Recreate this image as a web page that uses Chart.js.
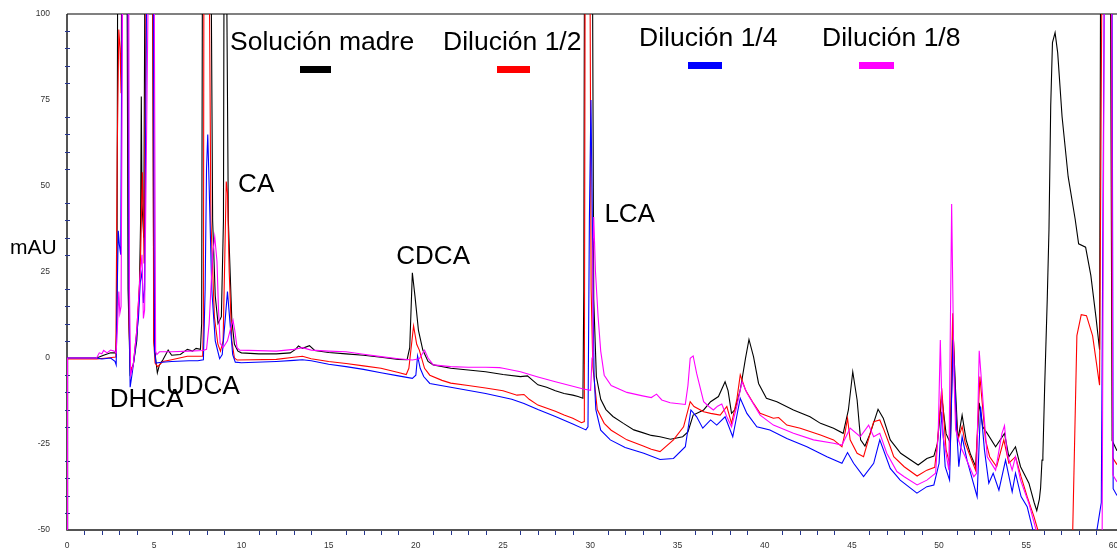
<!DOCTYPE html>
<html>
<head>
<meta charset="utf-8">
<script src="https://cdn.jsdelivr.net/npm/chart.js@4.4.1/dist/chart.umd.min.js"></script>
<style>
  html, body { margin: 0; padding: 0; background: #fff; overflow: hidden; }
  #wrap { width: 1117px; height: 554px; position: relative; }
</style>
</head>
<body>
<div id="wrap"><canvas id="chart" width="1117" height="554"></canvas></div>
<script>
// Chromatogram traces: [retention time (min), absorbance (mAU)]
const seriesNames = ['Solución madre', 'Dilución 1/2', 'Dilución 1/4', 'Dilución 1/8'];

const madreTrace = [
  [0,-60],[0.03,0],[1.7,0],[2.1,0.8],[2.5,1.5],[2.8,1.5],[2.86,10],[2.92,150],[3.42,150],[3.5,20],
  [3.62,-4.5],[3.8,-2],[4.0,5],[4.15,20],[4.22,40],[4.26,76],[4.3,45],[4.4,35],[4.5,150],[4.88,150],
  [4.98,5],[5.1,-1],[5.18,-4.3],[5.3,-2],[5.5,-0.5],[5.8,2.3],[6.0,0.8],[6.5,1.0],[6.9,2.5],[7.2,2.0],
  [7.4,2.8],[7.65,2.5],[7.72,10],[7.78,150],[8.22,150],[8.35,40],[8.5,18],[8.66,10],[8.85,12],[8.97,40],
  [9.02,150],[9.1,150],[9.25,40],[9.45,11],[9.6,4],[9.8,2],[10,1.5],[11,1.2],[12,1.2],[12.8,1.5],
  [13.1,2.5],[13.27,3.5],[13.5,2.8],[13.9,3.6],[14.2,2.2],[15,1.6],[16,1.2],[17,0.8],[18,0.2],[19,-0.4],
  [19.5,-0.5],[19.65,3],[19.8,24.8],[19.95,18],[20.15,8],[20.4,2.3],[20.7,-1],[21,-2],[22,-3],[23,-3.5],
  [24,-4],[25,-4.8],[26,-5.4],[26.4,-5.2],[26.7,-6.5],[27,-7.8],[27.5,-8.5],[28,-9.5],[28.5,-10.3],[29,-10.8],
  [29.3,-11.2],[29.58,-11.7],[29.63,20],[29.68,150],[30.1,150],[30.2,17],[30.35,-5.4],[30.6,-12],[30.9,-15],[31.3,-17],
  [31.9,-19],[32.5,-20.9],[33,-21.7],[33.5,-22.5],[34,-22.9],[34.6,-23.6],[35.3,-22.9],[35.6,-21.5],[35.9,-16.6],[36.5,-15.1],
  [36.9,-12.7],[37.35,-11.2],[37.73,-6.9],[37.9,-9.5],[38.1,-16.1],[38.3,-15],[38.6,-9.3],[38.9,-0.1],[39.1,5.4],[39.36,0.4],
  [39.65,-7.4],[40.1,-11.7],[40.7,-12.7],[41.65,-15.1],[42.6,-17.1],[43.2,-19],[43.95,-20.4],[44.5,-21.9],[44.8,-15.1],[45.05,-4],
  [45.3,-12.2],[45.5,-23.8],[45.75,-25.6],[46.05,-21.9],[46.5,-14.9],[46.8,-17.5],[47.2,-23.8],[47.8,-27.7],[48.8,-31.1],[49.3,-29.2],
  [49.7,-28.5],[49.9,-25],[50.15,-11.2],[50.4,-22],[50.65,-24.8],[50.8,8],[50.95,-10],[51.08,-23.8],[51.32,-16.6],[51.55,-23.8],
  [51.8,-28],[52.1,-31.6],[52.3,-13],[52.5,-20],[52.76,-21.9],[53.24,-25.8],[53.75,-21.9],[54,-28.7],[54.38,-25.8],[54.67,-31.6],
  [55.15,-36.4],[55.45,-42],[55.6,-44.4],[55.75,-41],[55.82,-37.7],[55.9,-29.7],[55.95,-28.5],[56.05,-8.9],[56.2,16.9],[56.3,37.3],
  [56.4,73.3],[56.5,91.7],[56.65,94.6],[56.8,88.7],[57.05,70.2],[57.4,52.7],[57.8,40.4],[58.0,33.2],[58.4,32.2],[58.7,24],
  [59.0,11.6],[59.2,2.4],[59.28,150],[59.8,150],[59.92,-24],[60.2,-27]
];

const mitadTrace = [
  [0,-60],[0.03,-0.3],[1.7,-0.3],[2.3,0],[2.8,0.3],[2.88,60],[2.97,95.5],[3.04,90],[3.1,77],[3.17,150],
  [3.45,150],[3.55,10],[3.64,-3.5],[3.8,-2],[4.0,8],[4.2,25],[4.32,54],[4.38,40],[4.42,27.5],[4.5,80],
  [4.56,150],[4.9,150],[4.97,5],[5.05,-1.5],[5.2,-2.5],[5.5,-1],[6,-0.5],[6.9,0.5],[7.5,0.5],[7.78,0.5],
  [7.82,10],[7.86,150],[8.11,150],[8.25,40],[8.45,12],[8.65,4],[8.8,2],[8.95,5],[9.05,30],[9.13,51.3],
  [9.2,48],[9.3,25],[9.45,5],[9.6,0],[9.75,-0.6],[12,-0.4],[13,0.2],[13.5,0.5],[14,-0.2],[15,-1],
  [16,-1.6],[17,-2.3],[18,-3],[19,-4.2],[19.45,-4.8],[19.6,-3],[19.87,9.3],[20.05,4],[20.2,2.3],[20.5,-3],
  [20.8,-5],[21.5,-6.5],[22,-7.3],[23,-8],[24,-8.7],[25,-9.5],[25.8,-10.8],[26.2,-10.6],[26.5,-12],[27,-13.7],
  [28,-15.5],[28.5,-16.6],[29,-17.5],[29.5,-18.8],[29.66,-18.5],[29.72,150],[29.96,150],[30.05,20],[30.15,-2.5],[30.4,-15],
  [30.8,-19],[31.2,-21],[32.1,-23.8],[33,-25.5],[33.5,-26.5],[34,-27.2],[34.77,-23.8],[35.35,-20],[35.73,-12.7],[35.95,-14.1],
  [36.5,-15.6],[36.9,-16.1],[37.45,-16.6],[37.83,-14.1],[38.1,-19],[38.4,-12.2],[38.6,-4.9],[38.9,-9.3],[39.36,-13.2],[39.74,-16.1],
  [40.5,-17.5],[40.8,-17.3],[41.27,-19.5],[42.04,-20.4],[43.2,-22.4],[43.95,-23.8],[44.43,-25.8],[44.6,-21.9],[44.75,-17.5],[44.9,-23.8],
  [45.3,-27.7],[45.67,-28.7],[46.05,-21.9],[46.25,-18.5],[46.6,-18],[46.8,-20.4],[47.2,-25.8],[47.4,-28.7],[48,-31.6],[48.74,-34.3],
  [49.3,-32.6],[49.75,-31.8],[49.9,-24.8],[50.15,-8.8],[50.4,-26.7],[50.6,-30.6],[50.78,13],[50.95,-15],[51.08,-23.8],[51.32,-19.9],
  [51.5,-24.8],[52.09,-32.6],[52.34,-5.4],[52.66,-23.8],[52.9,-28.7],[53.3,-31.6],[53.71,-23.8],[54,-30.6],[54.38,-28.7],[54.7,-34.5],
  [55.05,-40.3],[55.44,-46.1],[55.72,-51],[55.9,-60],[57.62,-60],[57.9,6.5],[58.15,12.6],[58.45,12.3],[58.8,6.5],[59.2,-7.9],
  [59.38,150],[59.85,150],[59.95,-29],[60.2,-31]
];

const cuartoTrace = [
  [0,-60],[0.03,0],[1.7,0],[2.0,-0.3],[2.5,0],[2.75,-1],[2.82,-2],[2.88,20],[2.94,37],[3.0,33],
  [3.08,30],[3.2,150],[3.46,150],[3.55,20],[3.62,-8.5],[3.75,-4],[3.9,2],[4.1,12],[4.2,22],[4.3,25],
  [4.38,16],[4.45,20],[4.62,150],[4.93,150],[5.02,2],[5.1,-1.5],[5.3,-1.3],[6,-1],[7,-0.8],[7.5,-0.8],
  [7.82,-0.5],[7.92,20],[8.0,55],[8.07,65],[8.15,50],[8.3,20],[8.5,5],[8.75,-0.2],[8.9,1],[9.05,10],
  [9.2,19.3],[9.35,10],[9.5,1],[9.65,-1.2],[10,-1.4],[12,-1],[13,-0.7],[13.5,-0.5],[14,-0.8],[15,-1.8],
  [16,-2.5],[17,-3.3],[18,-4.3],[19,-5.2],[19.8,-5.9],[20,-5],[20.1,0.6],[20.25,-3],[20.45,-5.4],[20.8,-7.4],
  [22,-8.5],[24,-10.3],[25.5,-12],[26.2,-13.2],[27,-15],[28,-17],[29,-19.2],[29.75,-20.9],[29.87,-20],[29.95,40],
  [30.04,75],[30.12,40],[30.16,16.9],[30.22,-5],[30.32,-15],[30.6,-21],[31.15,-23.8],[32,-26],[33.07,-27.7],[34,-29.5],
  [34.77,-29.2],[35.45,-25.8],[35.77,-15.1],[36.1,-17.1],[36.45,-20.4],[36.9,-18],[37.25,-19.5],[37.73,-17.1],[38.17,-22.9],[38.6,-11.7],
  [38.98,-16.1],[39.55,-20],[40.3,-20.9],[41.27,-23.4],[42.42,-25.8],[43.57,-28.7],[44.43,-30.6],[44.75,-27.5],[45.1,-30.6],[45.67,-34.5],
  [46.25,-30.6],[46.6,-23.8],[47.2,-32.1],[47.77,-35.5],[48.73,-39.3],[49.3,-37.4],[49.7,-36.9],[50,-30.6],[50.15,-15.6],[50.35,-31.6],
  [50.6,-35.5],[50.8,5.2],[51,-20],[51.13,-31.6],[51.32,-22.9],[51.6,-29.7],[52.18,-40.3],[52.38,-14.1],[52.6,-26.7],[52.85,-36.4],
  [53.1,-33.5],[53.43,-38.4],[53.81,-29.7],[54.19,-38.9],[54.38,-33.5],[54.7,-40.3],[55.05,-43.2],[55.4,-50.5],[55.6,-60],[58.95,-60],
  [59.05,-50],[59.3,-42],[59.52,150],[59.9,150],[59.98,-38],[60.2,-40]
];

const octavoTrace = [
  [0,-60],[0.03,0],[1.7,0],[1.85,1.5],[2.0,1.2],[2.1,2.2],[2.3,1.5],[2.5,2.3],[2.7,2],[2.82,1.5],
  [2.9,10],[2.97,19.3],[3.03,13],[3.1,15],[3.23,150],[3.52,150],[3.58,20],[3.65,-5],[3.8,-2],[4.0,8],
  [4.2,25],[4.3,30],[4.38,11.5],[4.45,14],[4.75,150],[4.97,150],[5.08,2],[5.15,1],[5.3,1.8],[6,1.8],
  [7,2],[7.8,2.2],[8.0,2.5],[8.15,10],[8.35,30],[8.47,35.3],[8.6,28],[8.68,15],[8.78,4.3],[8.95,3],
  [9.2,5],[9.4,9],[9.52,11],[9.62,8],[9.75,3],[9.9,2.3],[12,2],[13,2.5],[13.5,3],[14,2.3],
  [15,2],[16,1.8],[17,1.1],[18,0.4],[19,-0.2],[19.8,-0.6],[20.2,-0.2],[20.5,2.3],[20.7,0],[21,-2],
  [22,-2.5],[23,-2.7],[24,-2.7],[24.8,-2.8],[25,-3],[26,-4],[27,-5.5],[28,-6.9],[29,-8.2],[29.6,-9],
  [30.02,-9.4],[30.1,0],[30.15,30],[30.2,41],[30.3,25],[30.45,12],[30.6,2],[30.8,-5],[31.2,-8],[32.1,-10],
  [33,-11],[33.5,-11.5],[33.8,-10.5],[34.1,-12.2],[34.58,-13],[35.45,-13.5],[35.6,-8],[35.73,-0.1],[35.9,0.6],[36.1,-4.5],
  [36.5,-12.7],[36.8,-14.1],[37.06,-15.1],[37.3,-14],[37.54,-13.4],[37.83,-17.1],[38.1,-20],[38.4,-14.1],[38.7,-6.9],[39,-10.3],
  [39.74,-16.6],[40.5,-19.5],[41.65,-21.9],[42.8,-23.8],[43.95,-24.8],[44.43,-25.3],[44.9,-20.4],[45.48,-22.9],[45.96,-19.5],[46.25,-22.9],
  [46.6,-21.9],[47,-27.7],[47.58,-33],[48,-34.5],[48.74,-36.9],[49.3,-35.5],[49.8,-33.5],[49.95,-21.9],[50.07,5.2],[50.2,-21.9],
  [50.56,-32.6],[50.72,44.8],[50.85,-5],[50.95,-20.9],[51.23,-25.8],[51.5,-28.7],[51.99,-34.5],[52.15,-33.5],[52.3,2.1],[52.57,-16.1],
  [52.76,-28.7],[53.24,-32.6],[53.6,-22],[53.75,-19.7],[53.9,-27.7],[54.19,-32.6],[54.38,-28.7],[54.67,-35.5],[55.15,-42.3],[55.59,-50.5],
  [55.8,-60],[59.3,-60],[59.35,-50],[59.5,150],[59.88,150],[59.96,-34],[60.2,-36]
];

const traces = [madreTrace, mitadTrace, cuartoTrace, octavoTrace];
const traceColors = ['#000000', '#ff0000', '#0000ff', '#ff00ff'];

// Axis ticks
const xTickLabels = [0, 5, 10, 15, 20, 25, 30, 35, 40, 45, 50, 55, 60];
const yTickLabels = [100, 75, 50, 25, 0, -25, -50];
const axisTitle = 'mAU';

// Peak names
const peakNames = ['DHCA', 'UDCA', 'CA', 'CDCA', 'LCA'];

// ---- layout ----
const peakLabelAt = {            // left/baseline anchor in (min, mAU)
  DHCA: [2.45, -14.3],
  UDCA: [5.68, -10.4],
  CA:   [9.81, 48.3],
  CDCA: [18.88, 27.3],
  LCA:  [30.81, 39.5]
};
const legendSlots = [            // text left/baseline, swatch box (px)
  { tx: 230, ty: 50, sx: 300, sy: 66, sw: 31, sh: 7 },
  { tx: 443, ty: 50, sx: 497, sy: 66, sw: 33, sh: 7 },
  { tx: 639, ty: 46, sx: 688, sy: 62, sw: 34, sh: 7 },
  { tx: 822, ty: 46, sx: 859, sy: 62, sw: 35, sh: 7 }
];
const FONT = '"Liberation Sans", Arial, sans-serif';

const framePlugin = {
  id: 'frame',
  beforeDatasetsDraw(chart) {
    const { ctx, chartArea: a, scales: { x, y } } = chart;
    ctx.save();
    // top border
    ctx.strokeStyle = '#808080';
    ctx.lineWidth = 2;
    ctx.beginPath();
    ctx.moveTo(a.left, a.top);
    ctx.lineTo(a.right, a.top);
    ctx.stroke();
    // axes
    ctx.strokeStyle = '#1c1c1c';
    ctx.lineWidth = 1.5;
    ctx.beginPath();
    ctx.moveTo(a.left, a.top);
    ctx.lineTo(a.left, a.bottom);
    ctx.lineTo(a.right, a.bottom);
    ctx.stroke();
    // minor ticks
    ctx.strokeStyle = '#26358f';
    ctx.lineWidth = 1;
    ctx.beginPath();
    for (let t = 1; t <= 60; t++) {
      if (t % 5 === 0) continue;
      const px = Math.round(x.getPixelForValue(t)) + 0.5;
      ctx.moveTo(px, a.bottom + 1);
      ctx.lineTo(px, a.bottom + 5);
    }
    for (let v = -45; v < 100; v += 5) {
      if (v % 25 === 0) continue;
      const py = Math.round(y.getPixelForValue(v)) + 0.5;
      ctx.moveTo(a.left - 2, py);
      ctx.lineTo(a.left + 3, py);
    }
    ctx.stroke();
    ctx.restore();
  },
  afterDatasetsDraw(chart) {
    const { ctx, chartArea: a, scales: { x, y } } = chart;
    ctx.save();
    // tick labels
    ctx.fillStyle = '#333';
    ctx.font = '8.5px ' + FONT;
    ctx.textBaseline = 'middle';
    ctx.textAlign = 'center';
    xTickLabels.forEach(t => ctx.fillText(String(t), x.getPixelForValue(t), a.bottom + 16));
    ctx.textAlign = 'right';
    yTickLabels.forEach(v => ctx.fillText(String(v), a.left - 17, y.getPixelForValue(v)));
    // axis title
    ctx.fillStyle = '#000';
    ctx.textAlign = 'left';
    ctx.textBaseline = 'alphabetic';
    ctx.font = '21px ' + FONT;
    ctx.fillText(axisTitle, 10, 254);
    // peak names
    ctx.font = '26px ' + FONT;
    peakNames.forEach(n => {
      const p = peakLabelAt[n];
      ctx.fillText(n, x.getPixelForValue(p[0]), y.getPixelForValue(p[1]));
    });
    // legend
    chart.data.datasets.forEach((ds, i) => {
      const s = legendSlots[i];
      ctx.fillStyle = '#000';
      ctx.font = '26.5px ' + FONT;
      ctx.fillText(ds.label, s.tx, s.ty);
      ctx.fillStyle = ds.borderColor;
      ctx.fillRect(s.sx, s.sy, s.sw, s.sh);
    });
    ctx.restore();
  }
};

const drawOrder = [4, 3, 2, 1];

new Chart(document.getElementById('chart'), {
  type: 'line',
  data: {
    datasets: traces.map((tr, i) => ({
      label: seriesNames[i],
      data: tr.map(p => ({ x: p[0], y: p[1] })),
      borderColor: traceColors[i],
      borderWidth: 1.1,
      pointRadius: 0,
      tension: 0,
      fill: false,
      order: drawOrder[i]
    }))
  },
  options: {
    responsive: false,
    animation: false,
    events: [],
    layout: { padding: { left: 67, top: 14, right: 0, bottom: 24 } },
    scales: {
      x: { type: 'linear', min: 0, max: 60.2, display: false },
      y: { type: 'linear', min: -50, max: 100, display: false }
    },
    plugins: { legend: { display: false }, tooltip: { enabled: false } }
  },
  plugins: [framePlugin]
});
</script>
</body>
</html>
